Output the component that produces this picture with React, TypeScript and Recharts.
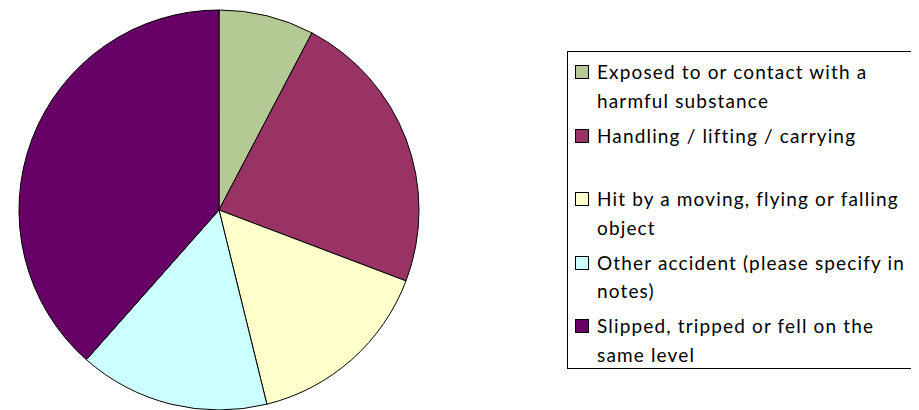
import React from "react";
import { PieChart, Pie, Cell, Legend } from "recharts";

const categories = [
  "Exposed to or contact with a\nharmful substance",
  "Handling / lifting / carrying",
  "Hit by a moving, flying or falling\nobject",
  "Other accident (please specify in\nnotes)",
  "Slipped, tripped or fell on the\nsame level",
];
const counts = [2, 6, 4, 4, 10];
const colors = ["#B5C994", "#993366", "#FFFFCC", "#CCFFFF", "#660066"];

const data = categories.map((name, i) => ({ name, value: counts[i] }));

const FONT = "Lato, 'Liberation Sans', sans-serif";

const LegendBox = (props: any) => {
  const payload = props.payload || [];
  return (
    <div
      style={{
        boxSizing: "border-box",
        width: 347,
        height: 318,
        border: "1px solid #000",
        background: "#fff",
        paddingTop: 6,
        fontFamily: FONT,
        fontSize: 19,
        letterSpacing: "1.15px",
        color: "#000",
      }}
    >
      {payload.map((p: any, i: number) => (
        <div key={i} style={{ position: "relative", height: 63.5 }}>
          <div
            style={{
              position: "absolute",
              left: 7,
              top: 7,
              width: 14,
              height: 14,
              boxSizing: "border-box",
              border: "1px solid #000",
              background: p.color,
            }}
          />
          <div
            style={{
              position: "absolute",
              left: 29,
              top: 0,
              whiteSpace: "pre",
              lineHeight: "28.5px",
            }}
          >
            {p.value}
          </div>
        </div>
      ))}
    </div>
  );
};

export default function App() {
  return (
    <div style={{ width: 911, height: 402, position: "relative" }}>
      <PieChart width={911} height={402} margin={{ top: 0, right: 0, bottom: 0, left: 0 }}>
        <Pie
          data={data}
          dataKey="value"
          nameKey="name"
          cx={211}
          cy={202}
          outerRadius={200}
          startAngle={90}
          endAngle={-270}
          stroke="#000"
          strokeWidth={1}
          isAnimationActive={false}
          legendType="square"
        >
          {data.map((_, i) => (
            <Cell key={i} fill={colors[i]} />
          ))}
        </Pie>
        <Legend
          layout="vertical"
          align="right"
          verticalAlign="middle"
          content={<LegendBox />}
          wrapperStyle={{ left: 559, top: 43, right: "auto", width: 347, height: 318 }}
        />
      </PieChart>
    </div>
  );
}
